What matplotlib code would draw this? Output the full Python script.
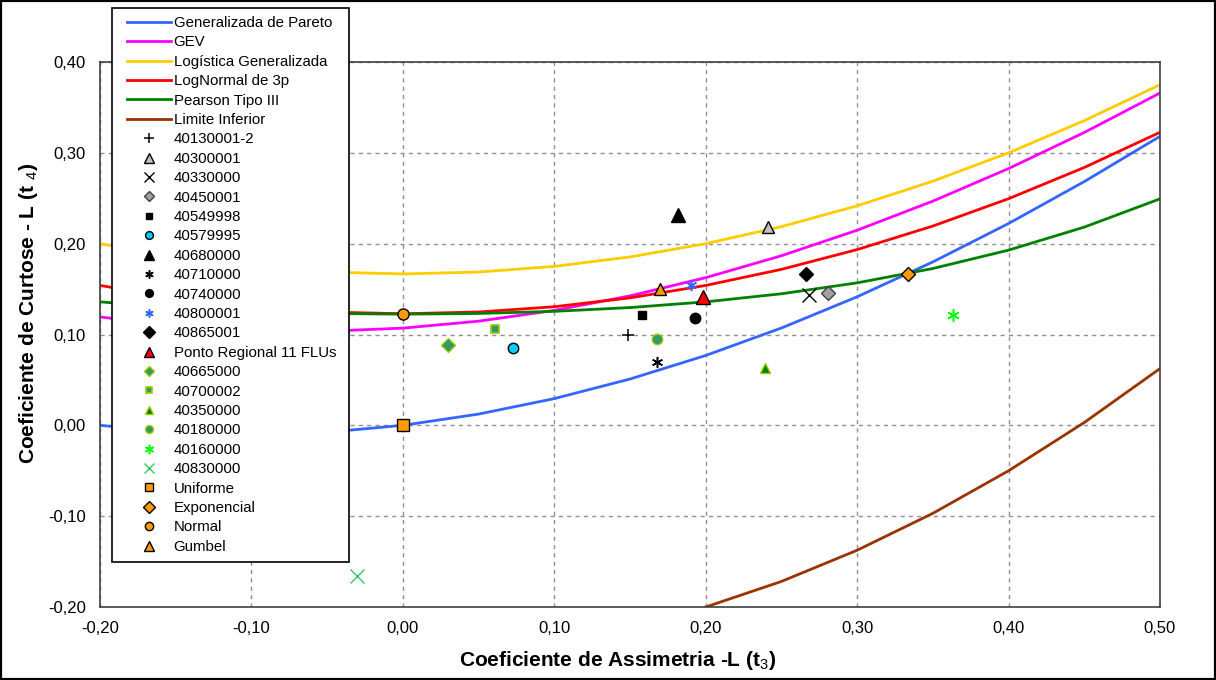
import matplotlib
matplotlib.use('Agg')
import matplotlib.pyplot as plt
from matplotlib.patches import Rectangle
from matplotlib.ticker import FuncFormatter

plt.rcParams['font.family'] = ['Liberation Sans', 'DejaVu Sans']
plt.rcParams['mathtext.fontset'] = 'custom'
plt.rcParams['mathtext.rm'] = 'Liberation Sans'
plt.rcParams['mathtext.bf'] = 'Liberation Sans:bold'

# L-skewness grid used for the theoretical curves
t3_grid = [-0.20, -0.15, -0.10, -0.05, 0.00, 0.05, 0.10, 0.15, 0.20,
           0.25, 0.30, 0.35, 0.40, 0.45, 0.50]

gpa_t4 = [0.0, -0.00773, -0.01020, -0.00758, 0.0, 0.01238, 0.02941, 0.05097,
          0.07692, 0.10714, 0.14151, 0.17991, 0.22222, 0.26835, 0.31818]
gev_t4 = [0.11932, 0.10969, 0.10447, 0.10359, 0.10701, 0.11467, 0.12652, 0.14251,
          0.16259, 0.18671, 0.21480, 0.24683, 0.28271, 0.32240, 0.36585]
glo_t4 = [0.20000, 0.18542, 0.17500, 0.16875, 0.16667, 0.16875, 0.17500, 0.18542,
          0.20000, 0.21875, 0.24167, 0.26875, 0.30000, 0.33542, 0.37500]
ln3_t4 = [0.15401, 0.14032, 0.13058, 0.12476, 0.12282, 0.12476, 0.13058, 0.14032,
          0.15401, 0.17172, 0.19349, 0.21940, 0.24951, 0.28389, 0.32260]
pe3_t4 = [0.13594, 0.12965, 0.12551, 0.12316, 0.12240, 0.12316, 0.12551, 0.12965,
          0.13594, 0.14483, 0.15686, 0.17266, 0.19288, 0.21822, 0.24935]

lim_t3 = [0.20, 0.25, 0.30, 0.35, 0.40, 0.45, 0.50]
lim_t4 = [-0.2, -0.171875, -0.1375, -0.096875, -0.05, 0.003125, 0.0625]

curve_names = ['Generalizada de Pareto', 'GEV', 'Logística Generalizada',
               'LogNormal de 3p', 'Pearson Tipo III', 'Limite Inferior']

# stations and reference distributions: name, t3, t4
station_names = ['40130001-2', '40300001', '40330000', '40450001', '40549998',
                 '40579995', '40680000', '40710000', '40740000', '40800001',
                 '40865001', 'Ponto Regional 11 FLUs', '40665000', '40700002',
                 '40350000', '40180000', '40160000', '40830000',
                 'Uniforme', 'Exponencial', 'Normal', 'Gumbel']
station_t3 = [0.149, 0.241, 0.268, 0.281, 0.158, 0.073, 0.182, 0.168, 0.193, 0.190,
              0.266, 0.198, 0.030, 0.061, 0.239, 0.168, 0.363, -0.030,
              0.0, 0.3333, 0.0, 0.1699]
station_t4 = [0.100, 0.218, 0.143, 0.146, 0.121, 0.085, 0.232, 0.070, 0.118, 0.154,
              0.167, 0.141, 0.088, 0.106, 0.063, 0.095, 0.121, -0.166,
              0.0, 0.1667, 0.1226, 0.1504]

asterisk = (6, 2, 0)
marker_styles = [
    dict(marker='+', color='black', ms=9, mew=1.1),
    dict(marker='^', mfc='#C0C0C0', mec='black', ms=9, mew=1),
    dict(marker='x', color='black', ms=10, mew=1),
    dict(marker='D', mfc='#A0A0A0', mec='#404040', ms=7, mew=1),
    dict(marker='s', color='black', ms=6),
    dict(marker='o', mfc='#00CCFF', mec='black', ms=7.5, mew=1),
    dict(marker='^', color='black', ms=10),
    dict(marker=asterisk, color='black', ms=8, mew=1.1),
    dict(marker='o', color='black', ms=7.5),
    dict(marker=asterisk, color='#3366FF', ms=8, mew=1.1),
    dict(marker='D', color='black', ms=7.5),
    dict(marker='^', mfc='#FF0000', mec='black', ms=10, mew=1),
    dict(marker='D', mfc='#339966', mec='#99CC00', ms=7, mew=1),
    dict(marker='s', mfc='#339966', mec='#99CC00', ms=6, mew=1.2),
    dict(marker='^', mfc='#008000', mec='#99CC00', ms=7, mew=1),
    dict(marker='o', mfc='#339966', mec='#99CC00', ms=7.5, mew=1),
    dict(marker=asterisk, color='#00FF00', ms=9, mew=1.1),
    dict(marker='x', color='#33CC66', ms=10, mew=1),
    dict(marker='s', mfc='#FF9900', mec='black', ms=8, mew=1),
    dict(marker='D', mfc='#FF9900', mec='black', ms=7.5, mew=1),
    dict(marker='o', mfc='#FF9900', mec='black', ms=8, mew=1),
    dict(marker='^', mfc='#FF9900', mec='black', ms=9, mew=1),
]

fig = plt.figure(figsize=(12.16, 6.8), dpi=100)
ax = fig.add_axes([100 / 1216, 1 - 607 / 680, 1060 / 1216, 545 / 680])

lw = 2.0
ax.plot(t3_grid, gpa_t4, color='#3366FF', lw=lw, label=curve_names[0])
ax.plot(t3_grid, gev_t4, color='#FF00FF', lw=lw, label=curve_names[1])
ax.plot(t3_grid, glo_t4, color='#FFCC00', lw=lw, label=curve_names[2])
ax.plot(t3_grid, ln3_t4, color='#FF0000', lw=lw, label=curve_names[3])
ax.plot(t3_grid, pe3_t4, color='#008000', lw=lw, label=curve_names[4])
ax.plot(lim_t3, lim_t4, color='#993300', lw=lw, label=curve_names[5])

for name, x, y, st in zip(station_names, station_t3, station_t4, marker_styles):
    ax.plot([x], [y], linestyle='none', label=name, zorder=5, **st)

ax.set_xlim(-0.2, 0.5)
ax.set_ylim(-0.2, 0.4)
ax.set_xticks([-0.2, -0.1, 0.0, 0.1, 0.2, 0.3, 0.4, 0.5])
ax.set_yticks([-0.2, -0.1, 0.0, 0.1, 0.2, 0.3, 0.4])
comma = FuncFormatter(lambda v, p: f'{v:.2f}'.replace('.', ',').replace('-0,00', '0,00'))
ax.xaxis.set_major_formatter(comma)
ax.yaxis.set_major_formatter(comma)
ax.tick_params(labelsize=12, length=0, pad=10)
ax.grid(True, color='#909090', linestyle=(0, (3, 3)), linewidth=1)
for s in ax.spines.values():
    s.set_color('#404040')
    s.set_linewidth(1.2)

ax.set_xlabel('Coeficiente de Assimetria -L (t$_3$)', fontsize=15, fontweight='bold')
ax.set_ylabel('Coeficiente de Curtose - L (t $_4$)', fontsize=15, fontweight='bold')
ax.xaxis.set_label_coords(0.488, -0.077)
ax.yaxis.set_label_coords(-0.057, 0.538)

# white legend box drawn separately so its padding can differ per side
box = Rectangle((112 / 1216, 1 - 562 / 680), 237 / 1216, 554 / 680,
                transform=fig.transFigure, facecolor='white', edgecolor='black',
                linewidth=1.2, clip_on=False, zorder=9)
ax.add_artist(box)

leg = ax.legend(loc='upper left', bbox_to_anchor=(127 / 1216, 1 - 16 / 680),
                bbox_transform=fig.transFigure, borderaxespad=0, fontsize=10.8,
                handlelength=2.9, handletextpad=0.2, labelspacing=0.36,
                borderpad=0.0, frameon=False, numpoints=1, markerscale=0.75)
leg.set_zorder(10)

# outer border of the chart
fig.patches.append(Rectangle((0, 0), 1, 1, transform=fig.transFigure,
                             fill=False, edgecolor='black', linewidth=3))

fig.savefig('out.png', dpi=100)
